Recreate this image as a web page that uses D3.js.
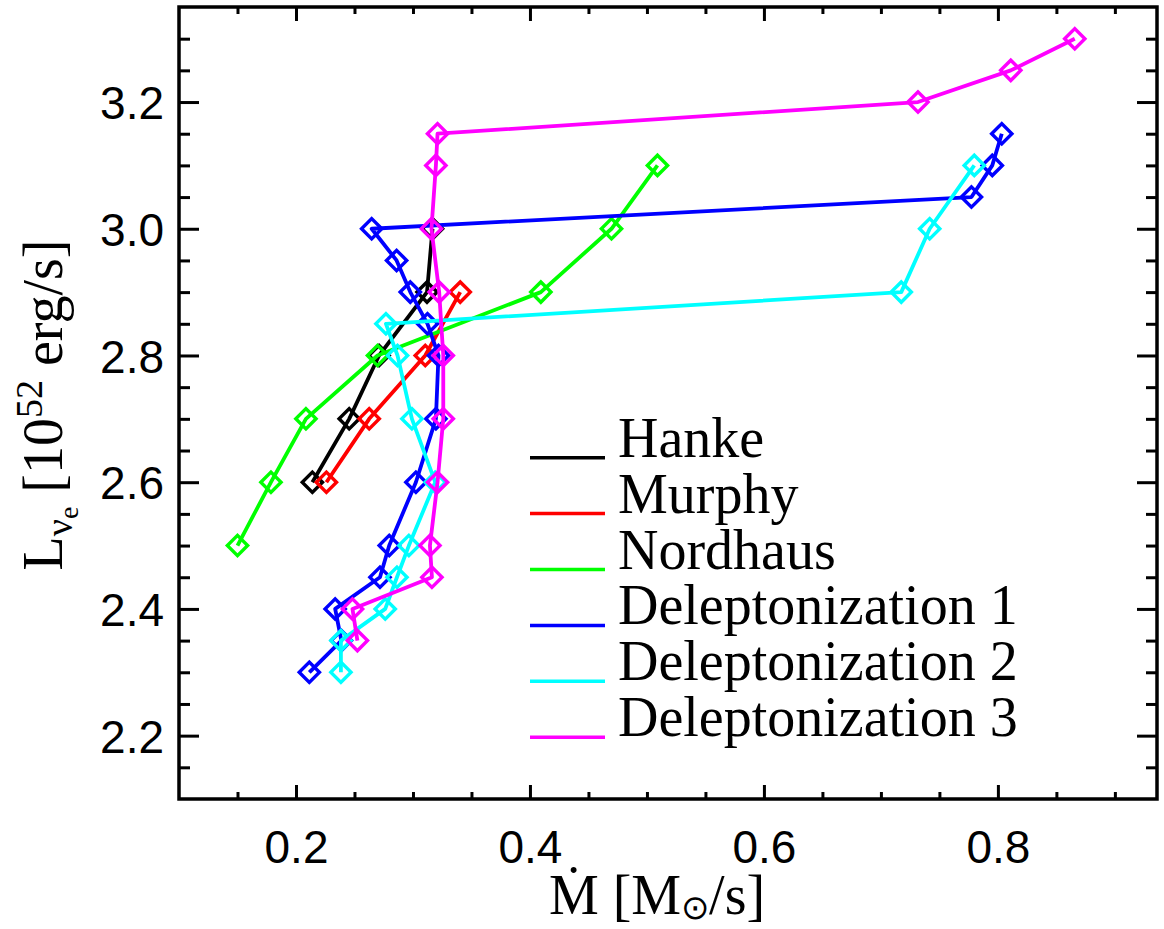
<!DOCTYPE html>
<html>
<head>
<meta charset="utf-8">
<script src="https://cdn.jsdelivr.net/npm/d3@7"></script>
<style>
  html, body { margin: 0; padding: 0; background: #fff; }
  svg { display: block; }
</style>
</head>
<body>
<svg id="chart" width="1164" height="929"></svg>
<script>
// ---- data ----
const seriesNames = ["Hanke", "Murphy", "Nordhaus", "Deleptonization 1", "Deleptonization 2", "Deleptonization 3"];
const seriesColors = ["#000000", "#ff0000", "#00ff00", "#0000ff", "#00ffff", "#ff00ff"];

const hankeX = [0.214, 0.2455, 0.271, 0.312, 0.3167];
const hankeY = [2.6, 2.7, 2.8, 2.9, 3.0];

const murphyX = [0.226, 0.2626, 0.3105, 0.3404];
const murphyY = [2.6, 2.7, 2.8, 2.9];

const nordhausX = [0.150, 0.1786, 0.2085, 0.2697, 0.4093, 0.4697, 0.509];
const nordhausY = [2.5, 2.6, 2.7, 2.8, 2.9, 3.0, 3.1];

const delep1X = [0.2114, 0.2388, 0.2335, 0.2718, 0.2797, 0.3025, 0.3196, 0.3218, 0.3124, 0.2977, 0.286, 0.2647, 0.7774, 0.7952, 0.8033];
const delep1Y = [2.3, 2.35, 2.4, 2.45, 2.5, 2.6, 2.7, 2.8, 2.85, 2.9, 2.95, 3.0, 3.05, 3.1, 3.15];

const delep2X = [0.2384, 0.2384, 0.2763, 0.2863, 0.2965, 0.319, 0.2991, 0.2868, 0.2769, 0.7174, 0.7417, 0.7798];
const delep2Y = [2.3, 2.35, 2.4, 2.45, 2.5, 2.6, 2.7, 2.8, 2.85, 2.9, 3.0, 3.1];

const delep3X = [0.2525, 0.2483, 0.3162, 0.3145, 0.321, 0.3259, 0.3259, 0.3224, 0.3158, 0.3196, 0.321, 0.7317, 0.811, 0.8657];
const delep3Y = [2.35, 2.4, 2.45, 2.5, 2.6, 2.7, 2.8, 2.9, 3.0, 3.1, 3.15, 3.2, 3.25, 3.3];

const xMajorTicks = [0.2, 0.4, 0.6, 0.8];
const xTickLabels = ["0.2", "0.4", "0.6", "0.8"];
const xMinorTicks = [0.15, 0.25, 0.3, 0.35, 0.45, 0.5, 0.55, 0.65, 0.7, 0.75, 0.85, 0.9];
const yMajorTicks = [2.2, 2.4, 2.6, 2.8, 3.0, 3.2];
const yTickLabels = ["2.2", "2.4", "2.6", "2.8", "3.0", "3.2"];
const yMinorTicks = [2.15, 2.25, 2.3, 2.35, 2.45, 2.5, 2.55, 2.65, 2.7, 2.75, 2.85, 2.9, 2.95, 3.05, 3.1, 3.15, 3.25, 3.3];

const xDomain = [0.1, 0.936];
const yDomain = [2.1, 3.35];

// ---- build ----
const seriesX = [hankeX, murphyX, nordhausX, delep1X, delep2X, delep3X];
const seriesY = [hankeY, murphyY, nordhausY, delep1Y, delep2Y, delep3Y];
const series = seriesNames.map((name, i) => ({
  name, color: seriesColors[i],
  points: seriesX[i].map((xv, j) => ({ x: xv, y: seriesY[i][j] }))
}));

const svg = d3.select("#chart");
const pLeft = 179, pRight = 1157, pTop = 7, pBottom = 799;
const x = d3.scaleLinear().domain(xDomain).range([pLeft, pRight]);
const y = d3.scaleLinear().domain(yDomain).range([pBottom, pTop]);

const sans = "'Liberation Sans', Arial, Helvetica, sans-serif";
const serif = "'Liberation Serif', 'Times New Roman', Times, serif";

function styleAxis(g) {
  g.select(".domain").remove();
  g.selectAll(".tick line").attr("stroke", "#000").attr("stroke-width", 3);
}

// bottom axis: major with labels
const gxb = svg.append("g").attr("transform", `translate(0,${pBottom})`)
  .call(d3.axisBottom(x).tickValues(xMajorTicks).tickSize(-14)
    .tickFormat((d, i) => xTickLabels[i]));
styleAxis(gxb);
gxb.selectAll(".tick text").attr("y", 64).attr("dy", 0)
  .attr("font-family", sans).attr("font-size", 46).attr("fill", "#000");
svg.append("g").attr("transform", `translate(0,${pBottom})`)
  .call(d3.axisBottom(x).tickValues(xMinorTicks).tickSize(-7).tickFormat(""))
  .call(styleAxis);

// top axis
svg.append("g").attr("transform", `translate(0,${pTop})`)
  .call(d3.axisTop(x).tickValues(xMajorTicks).tickSize(-14).tickFormat(""))
  .call(styleAxis);
svg.append("g").attr("transform", `translate(0,${pTop})`)
  .call(d3.axisTop(x).tickValues(xMinorTicks).tickSize(-7).tickFormat(""))
  .call(styleAxis);

// left axis
const gyl = svg.append("g").attr("transform", `translate(${pLeft},0)`)
  .call(d3.axisLeft(y).tickValues(yMajorTicks).tickSize(-20)
    .tickFormat((d, i) => yTickLabels[i]));
styleAxis(gyl);
gyl.selectAll(".tick text").attr("x", -15).attr("dy", "0.36em")
  .attr("font-family", sans).attr("font-size", 46).attr("fill", "#000");
svg.append("g").attr("transform", `translate(${pLeft},0)`)
  .call(d3.axisLeft(y).tickValues(yMinorTicks).tickSize(-11).tickFormat(""))
  .call(styleAxis);

// right axis
svg.append("g").attr("transform", `translate(${pRight},0)`)
  .call(d3.axisRight(y).tickValues(yMajorTicks).tickSize(-20).tickFormat(""))
  .call(styleAxis);
svg.append("g").attr("transform", `translate(${pRight},0)`)
  .call(d3.axisRight(y).tickValues(yMinorTicks).tickSize(-11).tickFormat(""))
  .call(styleAxis);

// frame
svg.append("rect").attr("x", pLeft).attr("y", pTop)
  .attr("width", pRight - pLeft).attr("height", pBottom - pTop)
  .attr("fill", "none").attr("stroke", "#000").attr("stroke-width", 3.5);

// series
const line = d3.line().x(d => x(d.x)).y(d => y(d.y));
series.forEach(s => {
  const g = svg.append("g");
  g.append("path").datum(s.points).attr("d", line)
    .attr("fill", "none").attr("stroke", s.color).attr("stroke-width", 3.8)
    .attr("stroke-linejoin", "round");
  g.selectAll("path.m").data(s.points).join("path").attr("class", "m")
    .attr("transform", d => `translate(${x(d.x)},${y(d.y)}) rotate(45)`)
    .attr("d", d3.symbol().type(d3.symbolSquare).size(205))
    .attr("fill", "none").attr("stroke", s.color).attr("stroke-width", 3.4);
});

// legend
const legY0 = 457.7, legStep = 55.9;
const leg = svg.append("g");
series.forEach((s, i) => {
  const ly = legY0 + i * legStep;
  leg.append("line").attr("x1", 530).attr("x2", 605).attr("y1", ly).attr("y2", ly)
    .attr("stroke", s.color).attr("stroke-width", 3.5);
  leg.append("text").attr("x", 618).attr("y", ly - 1)
    .attr("font-family", serif).attr("font-size", 56).attr("fill", "#000")
    .text(s.name);
});

// x title
const xt = svg.append("text").attr("x", 657).attr("y", 914)
  .attr("text-anchor", "middle").attr("font-family", serif).attr("font-size", 56).attr("fill", "#000");
xt.append("tspan").text("\u1E40 [M");
xt.append("tspan").attr("font-size", 34).attr("dy", 5).text("\u2299");
xt.append("tspan").attr("dy", -5).text("/s]");

// y title
const yt = svg.append("text").attr("transform", "translate(62,405) rotate(-90)")
  .attr("text-anchor", "middle").attr("font-family", serif).attr("font-size", 56).attr("fill", "#000");
yt.append("tspan").text("L");
yt.append("tspan").attr("font-size", 38).attr("dy", 10).text("\u03BD");
yt.append("tspan").attr("font-size", 28).attr("dy", 6).text("e");
yt.append("tspan").attr("dy", -16).text(" [10");
yt.append("tspan").attr("font-size", 38).attr("dy", -20).text("52");
yt.append("tspan").attr("dy", 20).text(" erg/s]");
</script>
</body>
</html>
